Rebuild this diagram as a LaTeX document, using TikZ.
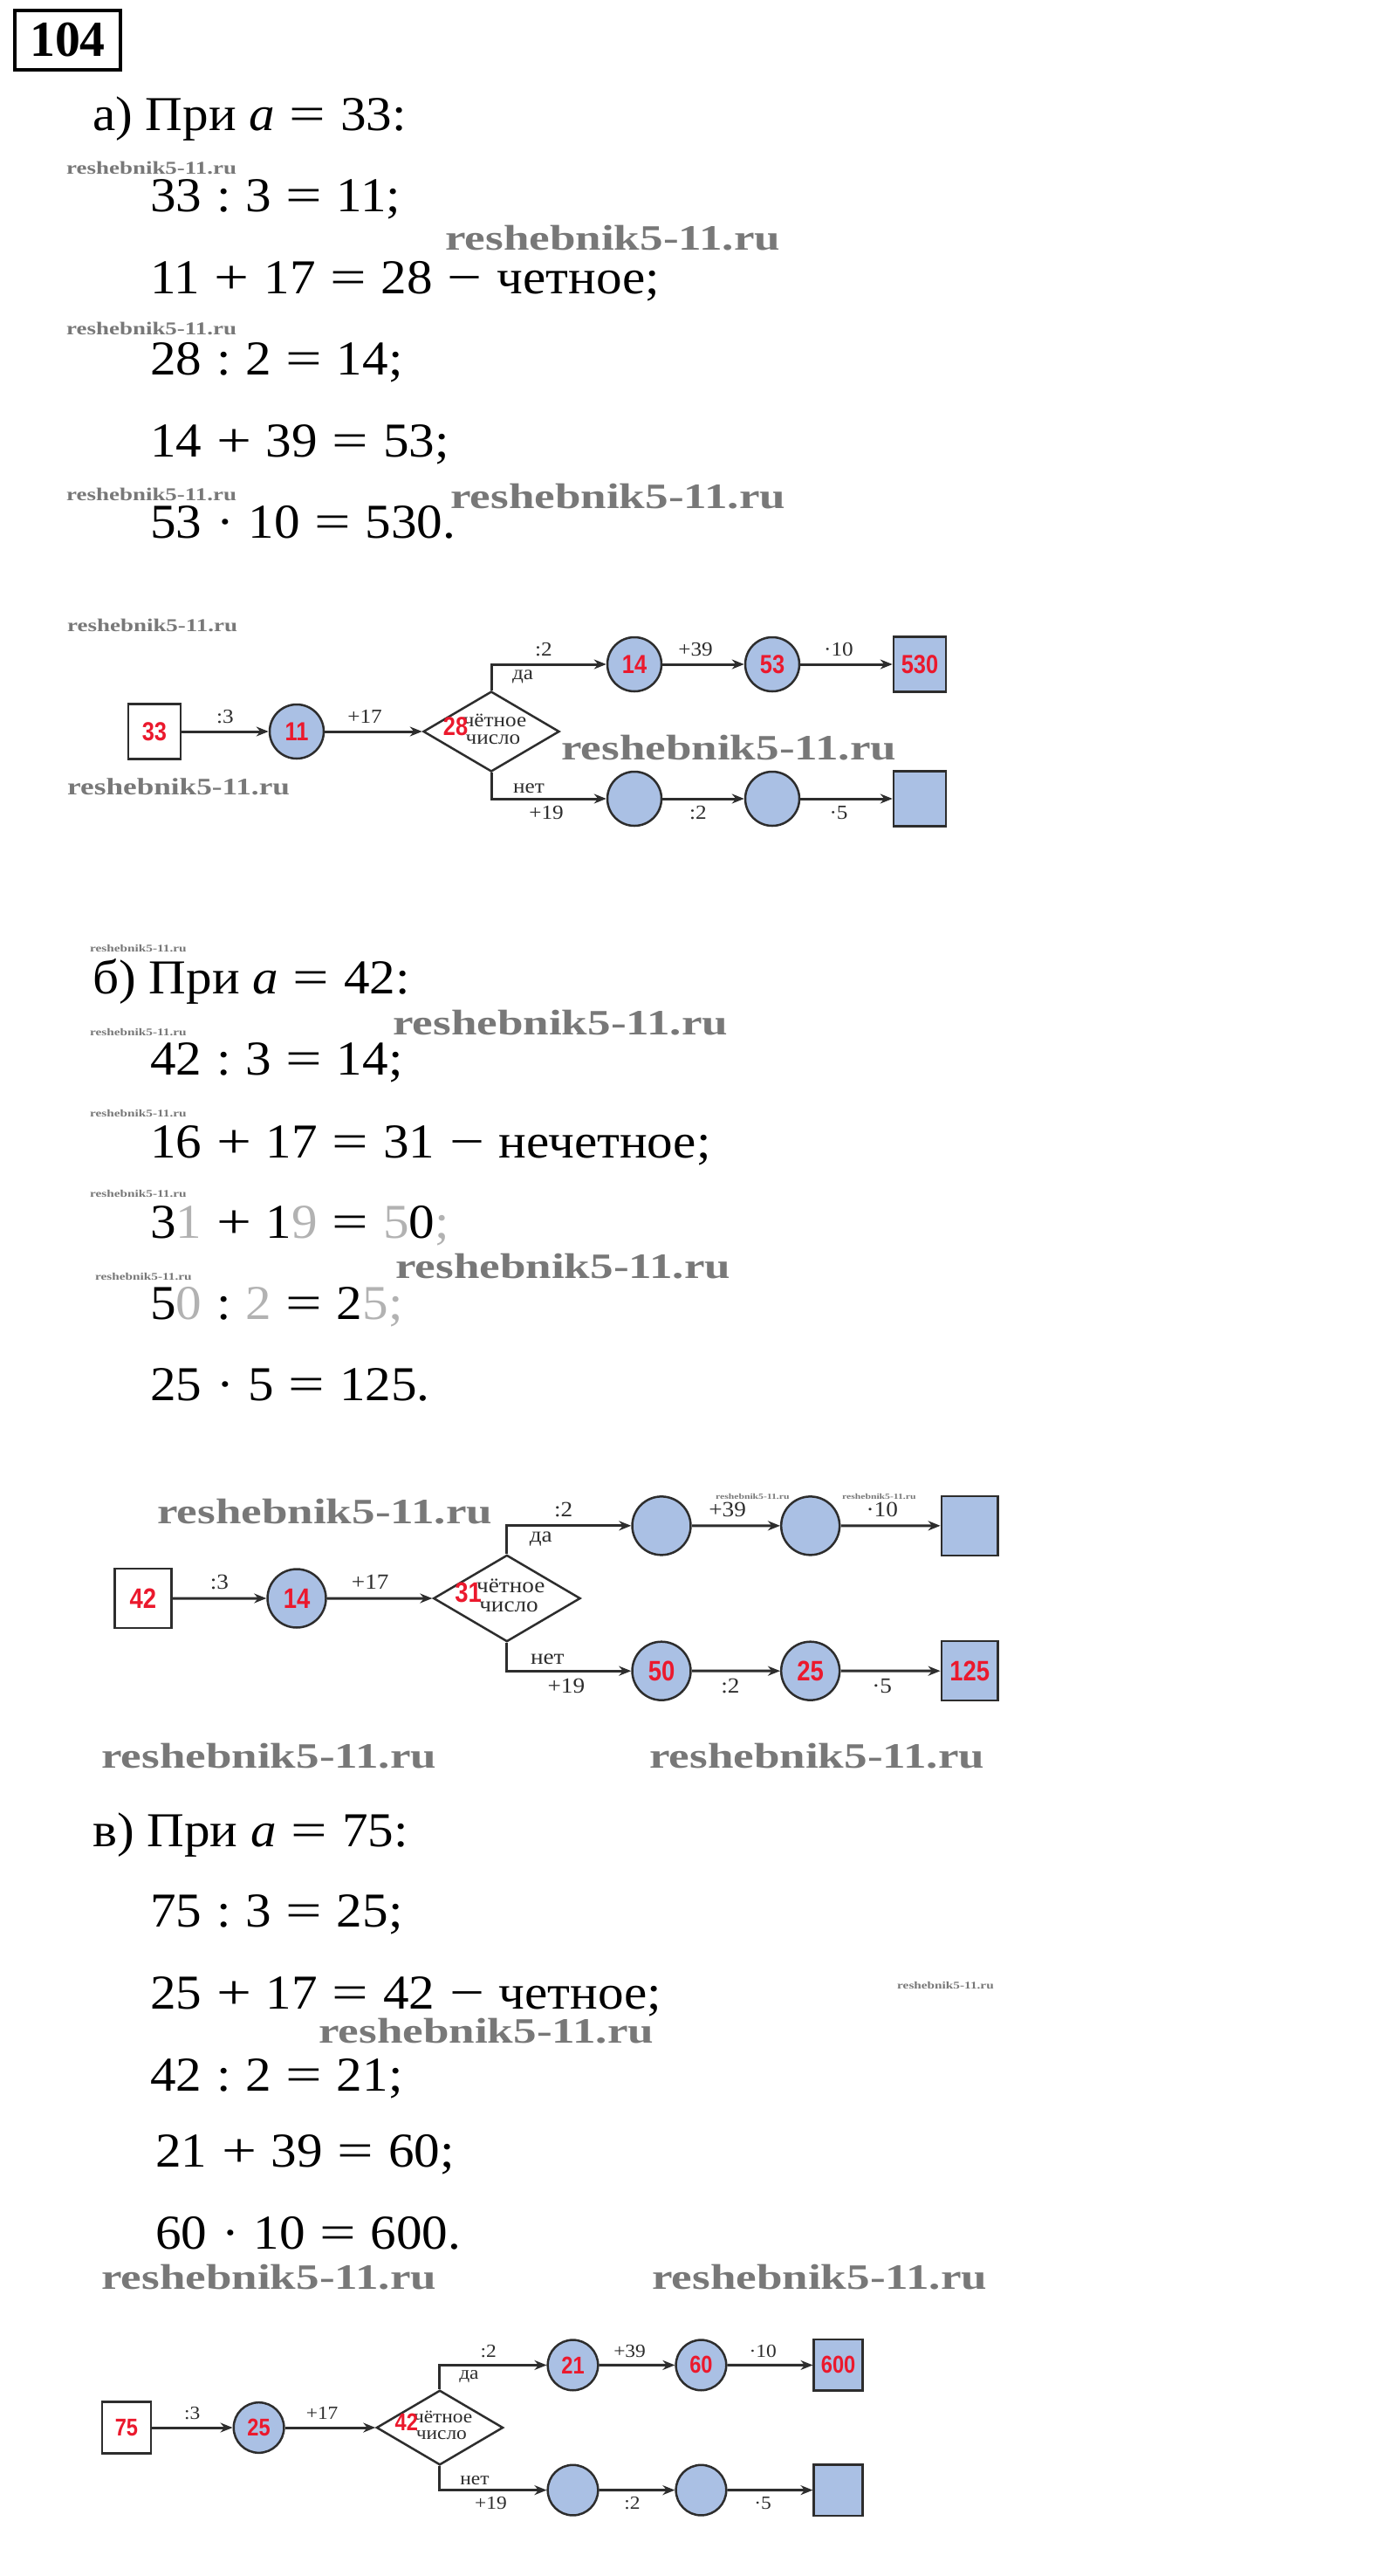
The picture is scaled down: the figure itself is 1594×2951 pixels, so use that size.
\documentclass[tikz,border=0pt]{standalone}
\usepackage{fontspec}
\usepackage{graphicx}
\usetikzlibrary{arrows.meta,shapes.geometric}
\setmainfont{Liberation Serif}
\newfontfamily\eqfont[FakeStretch=1.06]{Liberation Serif}
\newfontfamily\lblfont[FakeStretch=1.1]{Liberation Serif}
\newfontfamily\redfont[FakeStretch=0.85]{Liberation Sans}
\newfontfamily\wmfont[FakeStretch=1.3]{Liberation Serif}
\newfontfamily\hdfont{Liberation Serif}
\definecolor{cfill}{RGB}{170,192,228}
\definecolor{redn}{RGB}{235,25,45}
\definecolor{lnc}{RGB}{45,45,45}
\definecolor{lblc}{RGB}{45,45,45}
\definecolor{wmc}{RGB}{120,120,120}
\newcommand\eqgap{\hspace{0.3em}}
\newcommand\opeq{\eqgap\scalebox{1.25}[1]{=}\eqgap}
\newcommand\oppl{\eqgap\scalebox{1.2}[1]{+}\eqgap}
\newcommand\opmn{\eqgap\scalebox{1.2}[1]{−}\eqgap}
\newcommand\opcl{\eqgap:\eqgap}
\newcommand\opdt{\eqgap·\eqgap}
\newcommand\fd[1]{\textcolor{black!30}{#1}}
\tikzset{
  eqn/.style={anchor=base west, inner sep=0pt, font=\eqfont\fontsize{56}{60}\selectfont},
  wmL/.style={anchor=base west, inner sep=0pt, text=wmc, font=\wmfont\bfseries\fontsize{41}{45}\selectfont},
  wmM/.style={wmL, font=\wmfont\bfseries\fontsize{27.2}{30}\selectfont},
  wmS/.style={wmL, font=\wmfont\bfseries\fontsize{20.8}{24}\selectfont},
  wmT/.style={wmL, font=\wmfont\bfseries\fontsize{11.8}{14}\selectfont},
  wmU/.style={wmL, font=\wmfont\bfseries\fontsize{9}{11}\selectfont},
  circ/.style={circle, draw=lnc, line width=2.5bp, fill=cfill, minimum size=62bp, inner sep=0pt, text=redn, font=\redfont\bfseries\fontsize{30}{32}\selectfont},
  inbox/.style={rectangle, draw=lnc, line width=2.5bp, fill=white, minimum width=60bp, minimum height=63bp, inner sep=0pt, text=redn, font=\redfont\bfseries\fontsize{30}{32}\selectfont},
  endbox/.style={inbox, fill=cfill},
  dia/.style={diamond, draw=lnc, line width=2.5bp, fill=white, minimum width=156bp, minimum height=92bp, inner sep=0pt},
  lbl/.style={anchor=base, inner sep=0pt, text=lblc, font=\lblfont\fontsize{23}{26}\selectfont},
  rnum/.style={anchor=base, inner sep=0pt, text=redn, font=\redfont\bfseries\fontsize{30}{32}\selectfont},
  conn/.style={draw=lnc, line width=3bp, -{Stealth[length=14bp, width=11bp]}}
}
\newcommand\flowbot[3]{\def\fbA{#1}\def\fbB{#2}\def\fbC{#3}}
\newcommand\flow[8]{%
\begin{scope}[#1, transform shape]
  \node[inbox] (#2in) at (0,0) {#3};
  \node[circ] (#2c1) at (163,0) {#4};
  \node[dia] (#2d) at (386,0) {};
  \node[circ] (#2t1) at (550,-77) {#6};
  \node[circ] (#2t2) at (708,-77) {#7};
  \node[endbox] (#2t3) at (877,-77) {#8};
  \node[circ] (#2b1) at (550,77) {\fbA};
  \node[circ] (#2b2) at (708,77) {\fbB};
  \node[endbox] (#2b3) at (877,77) {\fbC};
  \node[lbl] (#2w1) at (390,-6) {чётное};
  \node[lbl] (#2w2) at (388,14) {число};
  \node[rnum] (#2dn) at (345,4) {#5};
  \draw[conn] (#2in) -- (#2c1);
  \draw[conn] (#2c1) -- (#2d);
  \draw[conn] (#2d.north) |- (#2t1);
  \draw[conn] (#2t1) -- (#2t2);
  \draw[conn] (#2t2) -- (#2t3);
  \draw[conn] (#2d.south) |- (#2b1);
  \draw[conn] (#2b1) -- (#2b2);
  \draw[conn] (#2b2) -- (#2b3);
  \node[lbl] (#2l1) at (81,-10) {:3};
  \node[lbl] (#2l2) at (241,-10) {+17};
  \node[lbl] (#2l3) at (446,-87) {:2};
  \node[lbl] (#2l4) at (422,-60) {да};
  \node[lbl] (#2l5) at (620,-87) {+39};
  \node[lbl] (#2l6) at (784,-87) {·10};
  \node[lbl] (#2l7) at (429,70) {нет};
  \node[lbl] (#2l8) at (449,100) {+19};
  \node[lbl] (#2l9) at (623,100) {:2};
  \node[lbl] (#2l10) at (784,100) {·5};
\end{scope}}
\begin{document}
\begin{tikzpicture}[x=1bp,y=-1bp]
\fill[white] (0,0) rectangle (1594,2951);
\useasboundingbox (0,0) rectangle (1594,2951);
% header
\node[draw, line width=4bp, minimum width=121bp, minimum height=68bp, inner sep=0pt,
  font=\hdfont\bfseries\fontsize{58}{60}\selectfont] (hdr) at (77.5,46) {104};
% ---- part a
\node[eqn] (ta) at (106,149) {а) При {\itshape a}\opeq 33:};
\node[eqn] (a1) at (172,242) {33\opcl 3\opeq 11;};
\node[eqn] (a2) at (172,336) {11\oppl 17\opeq 28\opmn четное;};
\node[eqn] (a3) at (172,429) {28\opcl 2\opeq 14;};
\node[eqn] (a4) at (172,523) {14\oppl 39\opeq 53;};
\node[eqn] (a5) at (172,616) {53\opdt 10\opeq 530.};
\node[wmS] (wm1) at (76,199) {reshebnik5-11.ru};
\node[wmL] (wm2) at (510,286) {reshebnik5-11.ru};
\node[wmS] (wm3) at (76,383) {reshebnik5-11.ru};
\node[wmS] (wm4) at (76,573) {reshebnik5-11.ru};
\node[wmL] (wm5) at (516,582) {reshebnik5-11.ru};
\flowbot{}{}{}
\flow{shift={(177,838)},scale=1}{a}{33}{11}{28}{14}{53}{530}
\node[wmS] (wm6) at (77,723) {reshebnik5-11.ru};
\node[wmM] (wm7) at (77,910) {reshebnik5-11.ru};
\node[wmL] (wm8) at (643,870) {reshebnik5-11.ru};
% ---- part b
\node[eqn] (tb) at (106,1138) {б) При {\itshape a}\opeq 42:};
\node[eqn] (b1) at (172,1231) {42\opcl 3\opeq 14;};
\node[eqn] (b2) at (172,1326) {16\oppl 17\opeq 31\opmn нечетное;};
\node[eqn] (b3) at (172,1418) {3\fd{1}\oppl 1\fd{9}\opeq \fd{5}0\fd{;}};
\node[eqn] (b4) at (172,1511) {5\fd{0}\opcl \fd{2}\opeq 2\fd{5}\fd{;}};
\node[eqn] (b5) at (172,1604) {25\opdt 5\opeq 125.};
\node[wmT] (wm9) at (103,1090) {reshebnik5-11.ru};
\node[wmL] (wm10) at (450,1185) {reshebnik5-11.ru};
\node[wmT] (wm11) at (103,1186) {reshebnik5-11.ru};
\node[wmT] (wm12) at (103,1279) {reshebnik5-11.ru};
\node[wmT] (wm13) at (103,1371) {reshebnik5-11.ru};
\node[wmL] (wm14) at (453,1464) {reshebnik5-11.ru};
\node[wmT] (wm15) at (109,1466) {reshebnik5-11.ru};
\flowbot{50}{25}{125}
\flow{shift={(164,1831)},scale=1.08}{b}{42}{14}{31}{}{}{}
\node[wmL] (wm16) at (180,1745) {reshebnik5-11.ru};
\node[wmU] (wm17) at (820,1717) {reshebnik5-11.ru};
\node[wmU] (wm18) at (965,1717) {reshebnik5-11.ru};
\node[wmL] (wm19) at (116,2025) {reshebnik5-11.ru};
\node[wmL] (wm20) at (744,2025) {reshebnik5-11.ru};
% ---- part c
\node[eqn] (tc) at (106,2115) {в) При {\itshape a}\opeq 75:};
\node[eqn] (c1) at (172,2207) {75\opcl 3\opeq 25;};
\node[eqn] (c2) at (172,2301) {25\oppl 17\opeq 42\opmn четное;};
\node[eqn] (c3) at (172,2395) {42\opcl 2\opeq 21;};
\node[eqn] (c4) at (178,2482) {21\oppl 39\opeq 60;};
\node[eqn] (c5) at (178,2576) {60\opdt 10\opeq 600.};
\node[wmT] (wm21) at (1028,2278) {reshebnik5-11.ru};
\node[wmL] (wm22) at (365,2340) {reshebnik5-11.ru};
\node[wmL] (wm23) at (116,2622) {reshebnik5-11.ru};
\node[wmL] (wm24) at (747,2622) {reshebnik5-11.ru};
\flowbot{}{}{}
\flow{shift={(145,2781)},scale=0.93}{c}{75}{25}{42}{21}{60}{600}
\end{tikzpicture}
\end{document}
